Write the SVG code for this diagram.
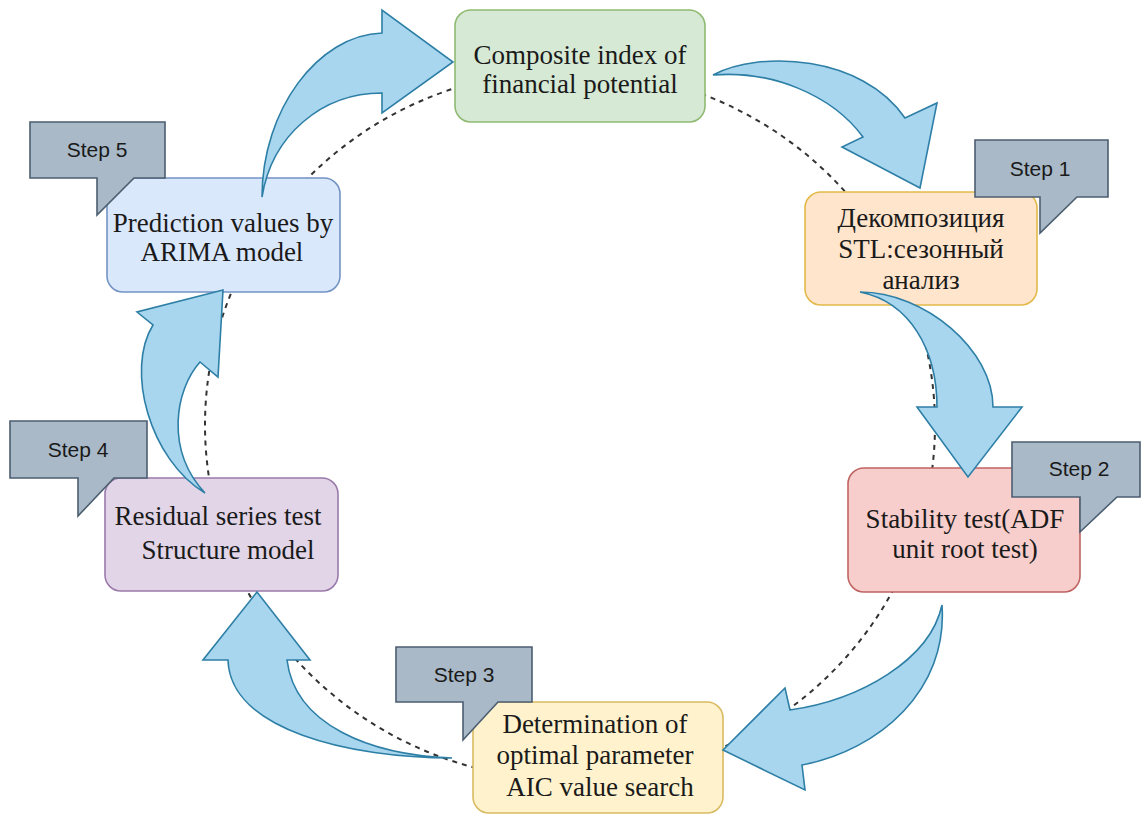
<svg xmlns="http://www.w3.org/2000/svg" width="1142" height="814" viewBox="0 0 1142 814">
<style>
.node{stroke-width:1.6}
.nt{font-family:"Liberation Serif","Times New Roman",serif;font-size:27px;fill:#1a1a1a;text-anchor:middle}
.st{font-family:"Liberation Sans",Arial,sans-serif;font-size:21px;fill:#1a1a1a;text-anchor:middle}
.call{fill:#a9b9c7;stroke:#4b5e70;stroke-width:1.6}
.arr{fill:#a9d6ef;stroke:#2e7fa6;stroke-width:1.6;stroke-linejoin:miter}
.cyc{fill:none;stroke:#333;stroke-width:2;stroke-dasharray:5 5}
</style>
<rect width="1142" height="814" fill="#fff"/>
<g id="cycle">
<ellipse class="cyc" cx="570" cy="425" rx="365" ry="355"/>
</g>
<g id="n-composite">
<rect class="node" x="455" y="10" width="250" height="112" rx="16" fill="#d6e9d4" stroke="#8fba72"/>
<text class="nt" x="580" y="64">Composite index of</text>
<text class="nt" x="580" y="93">financial potential</text>
</g>
<g id="n-decomp">
<rect class="node" x="805" y="192" width="232" height="113" rx="16" fill="#ffe5cc" stroke="#e2b94a"/>
<text class="nt" x="921" y="227">Декомпозиция</text>
<text class="nt" x="921" y="258">STL:сезонный</text>
<text class="nt" x="921" y="289">анализ</text>
</g>
<g id="n-stability">
<rect class="node" x="848" y="468" width="232" height="124" rx="16" fill="#f8cecc" stroke="#bf6461"/>
<text class="nt" x="965" y="528">Stability test(ADF</text>
<text class="nt" x="965" y="558">unit root test)</text>
</g>
<g id="n-determination">
<rect class="node" x="473" y="702" width="250" height="111" rx="16" fill="#fff2cc" stroke="#d9bb62"/>
<text class="nt" x="595" y="733">Determination of</text>
<text class="nt" x="595" y="764">optimal parameter</text>
<text class="nt" x="600" y="796">AIC value search</text>
</g>
<g id="n-residual">
<rect class="node" x="105" y="478" width="233" height="113" rx="16" fill="#e1d5e7" stroke="#9a7aaa"/>
<text class="nt" x="218" y="525">Residual series test</text>
<text class="nt" x="228" y="559">Structure model</text>
</g>
<g id="n-prediction">
<rect class="node" x="107" y="178" width="233" height="114" rx="16" fill="#dae8fc" stroke="#7393c3"/>
<text class="nt" x="223" y="232">Prediction values by</text>
<text class="nt" x="222" y="261">ARIMA model</text>
</g>
<g id="connectors">
<path class="arr" d="M262,197 C262,110 318,35 382,33 L382,10 L453,62 L382,113 L382,93 C322,93 272,135 262,197 Z"/>
<path class="arr" d="M713,75 C760,50 862,55 905,118 L937,103 L920,188 L842,147 L863,137 C832,95 772,70 713,75 Z"/>
<path class="arr" d="M860,292 C925,292 993,350 993,407 L1022,407 L968,477 L917,407 L937,407 C937,350 910,302 860,292 Z"/>
<path class="arr" d="M942,605 C948,690 880,750 802,765 L805,790 L723,750 L785,688 L790,710 C860,700 930,660 942,605 Z"/>
<path class="arr" d="M452,758 C350,758 230,730 228,660 L203,660 L257,592 L310,660 L287,660 C295,725 370,755 452,758 Z"/>
<path class="arr" d="M205,493 C150,460 125,370 153,325 L137,312 L223,290 L218,377 L200,362 C175,390 165,450 205,493 Z"/>
</g>
<g id="step1">
<path class="call" d="M975,140 H1108 V197 H1077 L1040,233 V197 H975 Z"/>
<text class="st" x="1040" y="176">Step 1</text>
</g>
<g id="step2">
<path class="call" d="M1012,442 H1140 V497 H1117 L1080,532 V497 H1012 Z"/>
<text class="st" x="1079" y="476">Step 2</text>
</g>
<g id="step3">
<path class="call" d="M396,647 H532 V702 H498 L463,740 V702 H396 Z"/>
<text class="st" x="464" y="682">Step 3</text>
</g>
<g id="step4">
<path class="call" d="M10,421 H147 V478 H114 L78,516 V478 H10 Z"/>
<text class="st" x="78" y="457">Step 4</text>
</g>
<g id="step5">
<path class="call" d="M30,122 H165 V178 H134 L97,215 V178 H30 Z"/>
<text class="st" x="97" y="157">Step 5</text>
</g>
</svg>
